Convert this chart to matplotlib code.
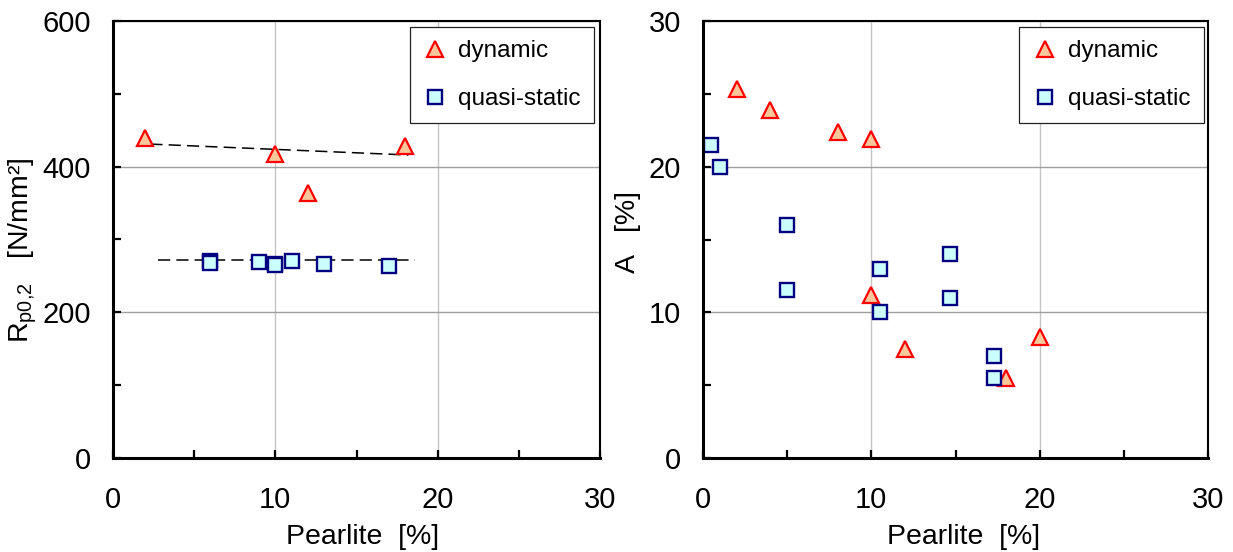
import matplotlib
matplotlib.use("Agg")
import matplotlib.pyplot as plt
from matplotlib.ticker import MultipleLocator

plt.rcParams['font.family'] = ['Liberation Sans', 'DejaVu Sans']
plt.rcParams['mathtext.fontset'] = 'custom'
plt.rcParams['mathtext.rm'] = 'Liberation Sans'
plt.rcParams['mathtext.it'] = 'Liberation Sans'

# left panel: yield strength Rp0,2
rp_dyn_x = [2, 10, 12, 18]
rp_dyn_y = [439, 418, 364, 429]
rp_qs_x = [6, 6, 9, 10, 10, 11, 13, 17]
rp_qs_y = [270, 268, 269, 267, 265, 270, 267, 264]
trend_dyn_x = [2.3, 18.2]
trend_dyn_y = [431, 416]
trend_qs_x = [2.8, 18.6]
trend_qs_y = [272, 272]

# right panel: elongation A
a_dyn_x = [2, 4, 8, 10, 10, 12, 18, 20]
a_dyn_y = [25.3, 23.9, 22.4, 21.9, 11.2, 7.5, 5.5, 8.3]
a_qs_x = [0.5, 1, 5, 5, 10.5, 10.5, 14.7, 14.7, 17.3, 17.3]
a_qs_y = [21.5, 20.0, 16.0, 11.5, 13.0, 10.0, 14.0, 11.0, 7.0, 5.5]

W, H = 1233, 552
dyn_style = dict(ls='none', marker='^', ms=11.5, mfc='#fcc79a', mec='#ff0000', mew=1.6)
qs_style = dict(ls='none', marker='s', ms=10.5, mfc='#ccffff', mec='#000080', mew=1.7)


def setup(ax, ymax, ymajor):
    ax.set_xlim(0, 30)
    ax.set_ylim(0, ymax)
    ax.xaxis.set_major_locator(MultipleLocator(10))
    ax.xaxis.set_minor_locator(MultipleLocator(5))
    ax.yaxis.set_major_locator(MultipleLocator(ymajor))
    ax.yaxis.set_minor_locator(MultipleLocator(ymajor / 2))
    ax.tick_params(which='both', direction='in', length=6, width=1.6, labelsize=21)
    ax.tick_params(axis='x', which='major', pad=20)
    ax.tick_params(axis='y', which='major', pad=16)
    ax.grid(True, axis='x', which='major', color='#c4c4c4', lw=1.0)
    ax.grid(True, axis='y', which='major', color='#a0a0a0', lw=1.0)
    ax.set_axisbelow(True)
    for side in ['left', 'bottom']:
        ax.spines[side].set_linewidth(2.2)
    for side in ['top', 'right']:
        ax.spines[side].set_linewidth(1.5)


def legend(ax, anchor):
    leg = ax.legend(loc='upper right', bbox_to_anchor=anchor, fontsize=17.5,
                    frameon=True, fancybox=False, framealpha=1, edgecolor='#222222',
                    borderpad=0.55, labelspacing=1.05, handlelength=1.0,
                    handletextpad=0.45, borderaxespad=0)
    leg.get_frame().set_linewidth(0.9)


fig = plt.figure(figsize=(W / 100, H / 100), dpi=100)

ax1 = fig.add_axes([113 / W, 1 - 458 / H, 487 / W, 437 / H])
setup(ax1, 600, 200)
l1 = ax1.plot(trend_dyn_x, trend_dyn_y, color='black', lw=1.1)[0]
l2 = ax1.plot(trend_qs_x, trend_qs_y, color='black', lw=1.1)[0]
for ln in (l1, l2):
    ln.set_dashes((8, 4))
ax1.plot(rp_dyn_x, rp_dyn_y, label='dynamic', **dyn_style)
ax1.plot(rp_qs_x, rp_qs_y, label='quasi-static', **qs_style)
legend(ax1, (0.988, 0.986))

ax2 = fig.add_axes([703 / W, 1 - 458 / H, 505 / W, 437 / H])
setup(ax2, 30, 10)
ax2.plot(a_dyn_x, a_dyn_y, label='dynamic', **dyn_style)
ax2.plot(a_qs_x, a_qs_y, label='quasi-static', **qs_style)
legend(ax2, (0.992, 0.986))

fig.text(23 / W, 1 - 250 / H, r'R$_{\mathrm{p0{,}2}}$   [N/mm²]', rotation=90,
         ha='center', va='center', fontsize=20.5)
fig.text(628 / W, 1 - 232 / H, 'A   [%]', rotation=90, ha='center', va='center', fontsize=20.5)
fig.text(363 / W, 1 - 537 / H, 'Pearlite  [%]', ha='center', va='center', fontsize=20.5)
fig.text(964 / W, 1 - 537 / H, 'Pearlite  [%]', ha='center', va='center', fontsize=20.5)

fig.savefig('out.png', dpi=100)
